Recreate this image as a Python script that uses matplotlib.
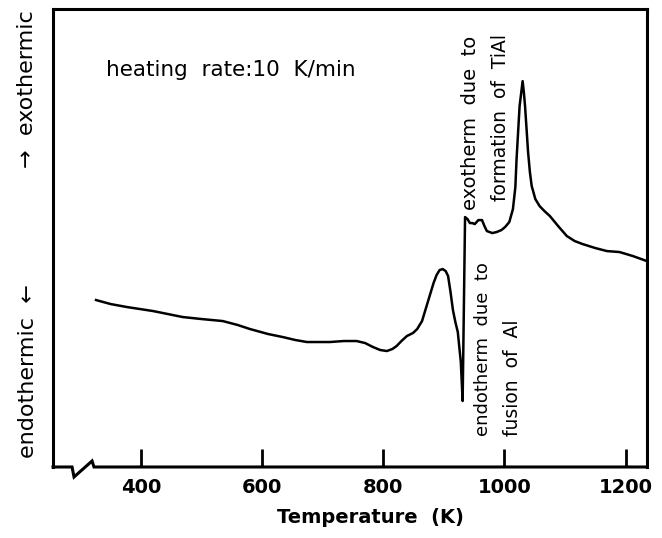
import matplotlib
matplotlib.use("Agg")
import matplotlib.pyplot as plt
import numpy as np

# DTA trace (temperature in K, signal in arbitrary units)
temperature = [326, 350, 377, 420, 469, 500, 535, 560, 580, 610, 634, 655, 674,
               712, 735, 756, 770, 783, 795, 806, 815, 822, 830, 839, 849, 856,
               864, 870, 877, 883, 888, 893, 898, 903, 907, 911, 915, 919, 923,
               928, 931, 935, 939, 943, 947, 951, 957, 963, 967, 971, 980, 987,
               995, 1001, 1008, 1014, 1018, 1020, 1025, 1030, 1032, 1034, 1039,
               1042, 1045, 1051, 1058, 1066, 1075, 1090, 1103, 1116, 1129, 1150,
               1169, 1190, 1212, 1235]
signal = [167, 163, 160, 156, 150, 148, 146, 142, 138, 133, 130, 127, 125,
          125, 126, 126, 124, 120, 117, 116, 118, 121, 126, 131, 134, 138,
          146, 158, 172, 184, 192, 197, 198, 196, 191, 175, 157, 145, 135,
          105, 66, 250, 248, 244, 244, 243, 247, 247, 241, 236, 234, 235,
          237, 240, 245, 258, 280, 308, 361, 386, 375, 361, 315,
          295, 281, 268, 261, 256, 251, 240, 231, 226, 223, 219,
          216, 215, 211, 206]

xticks = [400, 600, 800, 1000, 1200]

plt.rcParams["font.family"] = ["DejaVu Sans"]

fig = plt.figure(figsize=(6.62, 5.38), dpi=100)
ax = fig.add_axes([0.0801, 0.132, 0.897, 0.851])

ax.plot(temperature, signal, color="black", lw=1.8, solid_joinstyle="round")

ax.set_xlim(255, 1235)
ax.set_ylim(0, 458)
ax.set_xticks(xticks)
ax.set_yticks([])
ax.tick_params(axis="x", direction="in", length=13, width=2, pad=8,
               labelsize=14)
for lab in ax.get_xticklabels():
    lab.set_fontweight("bold")

for side in ["left", "right", "top"]:
    ax.spines[side].set_linewidth(2.2)
ax.spines["bottom"].set_visible(False)

# bottom axis with the break mark near the origin
bx = [0, 0.032, 0.0354, 0.0657, 0.069, 1.0]
by = [0, 0, -0.0218, 0.0131, 0, 0]
ax.plot(bx, by, color="black", lw=2.2, transform=ax.transAxes, clip_on=False,
        solid_joinstyle="miter")

ax.set_xlabel("Temperature  (K)", fontsize=14, fontweight="bold", labelpad=8)
ax.xaxis.label.set_x(0.534)

ax.text(342, 391, "heating  rate:10  K/min", fontsize=15.5, va="baseline", ha="left")
ax.text(944, 431, "exotherm  due  to", fontsize=14, rotation=90, ha="center", va="top")
ax.text(993, 433, "formation  of  TiAl", fontsize=13.5, rotation=90, ha="center", va="top")
ax.text(964, 31, "endotherm  due  to", fontsize=13, rotation=90, ha="center", va="bottom")
ax.text(1014, 31, "fusion  of  Al", fontsize=13.5, rotation=90, ha="center", va="bottom")

fig.text(27 / 662, 1 - 10 / 538, "\u2192  exothermic", fontsize=16, rotation=90,
         ha="center", va="top")
fig.text(28 / 662, 1 - 458 / 538, "endothermic  \u2190", fontsize=16, rotation=90,
         ha="center", va="bottom")

fig.savefig("out.png", dpi=100)
